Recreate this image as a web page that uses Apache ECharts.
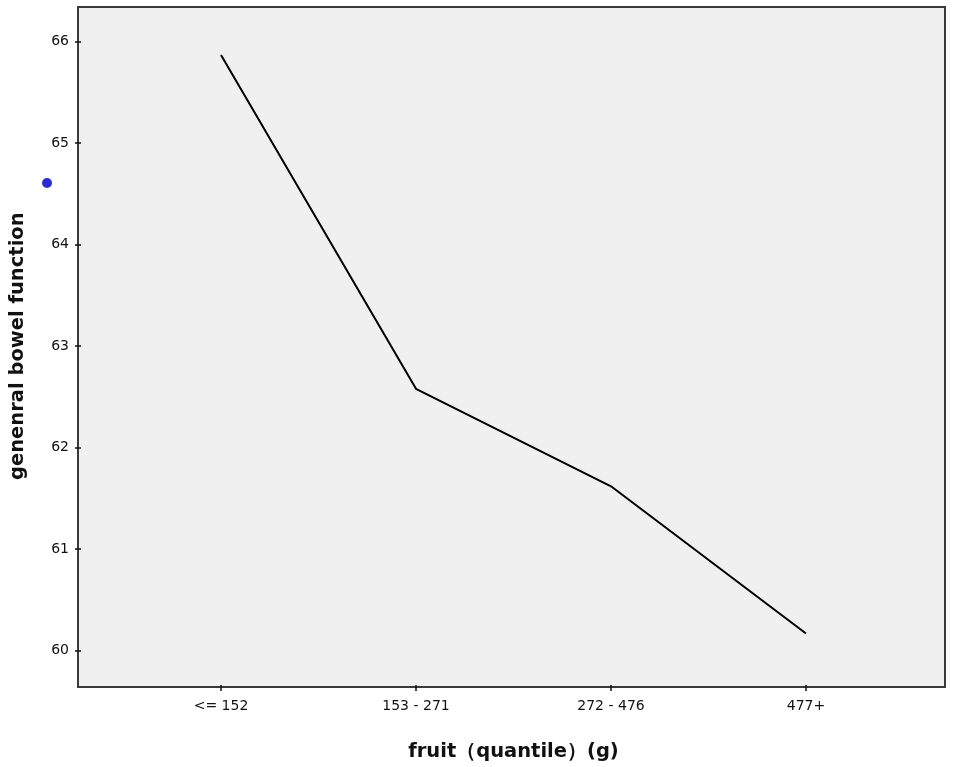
<!DOCTYPE html>
<html>
<head>
<meta charset="utf-8">
<script src="https://cdn.jsdelivr.net/npm/echarts@6/dist/echarts.min.js"></script>
<style>
html,body{margin:0;padding:0;background:#fff;}
#chart{width:957px;height:767px;}
</style>
</head>
<body>
<div id="chart"></div>
<script>
const categories = ['<= 152', '153 - 271', '272 - 476', '477+'];
const bowelFunction = [65.87, 62.58, 61.62, 60.17];
const yTicks = { min: 60, max: 66, interval: 1 };
const xAxisTitle = 'fruit（quantile）(g)';
const yAxisTitle = 'genenral bowel function';

const chart = echarts.init(document.getElementById('chart'), null, { renderer: 'canvas' });
const font = 'DejaVu Sans';
chart.setOption({
  backgroundColor: '#ffffff',
  animation: false,
  grid: [
    { left: 78, top: 7, width: 867, height: 680, show: true, backgroundColor: '#f0f0f0',
      borderColor: '#3a3a3a', borderWidth: 2, z: 0 },
    { left: 218, top: 41.7, width: 588, height: 611 }
  ],
  xAxis: [
    { gridIndex: 0, type: 'value', show: false },
    { gridIndex: 1, type: 'category', data: categories, boundaryGap: false, offset: 34.3,
      axisLine: { show: false },
      axisTick: { show: true, length: 6, lineStyle: { color: '#111', width: 1.5 } },
      axisLabel: { margin: 14, color: '#111', fontFamily: font, fontSize: 14 },
      splitLine: { show: false },
      name: xAxisTitle, nameLocation: 'middle', nameGap: 57,
      nameTextStyle: { fontFamily: font, fontWeight: 'bold', fontSize: 19.5, color: '#111' } }
  ],
  yAxis: [
    { gridIndex: 1, type: 'value', min: yTicks.min, max: yTicks.max, interval: yTicks.interval, offset: 140,
      axisLine: { show: false },
      axisTick: { show: true, length: 6, lineStyle: { color: '#111', width: 1.5 } },
      axisLabel: { margin: 12, color: '#111', fontFamily: font, fontSize: 14 },
      splitLine: { show: false },
      name: yAxisTitle, nameLocation: 'middle', nameGap: 53, nameRotate: 90,
      nameTextStyle: { fontFamily: font, fontWeight: 'bold', fontSize: 19.5, color: '#111' } },
    { gridIndex: 0, type: 'value', show: false }
  ],
  series: [
    { type: 'line', xAxisIndex: 1, yAxisIndex: 0, data: bowelFunction, showSymbol: false, symbol: 'none',
      lineStyle: { color: '#000', width: 2 }, z: 3 }
  ],
  graphic: [
    { type: 'circle', shape: { cx: 47, cy: 183, r: 5 }, style: { fill: '#2b2bcf' }, z: 10 }
  ]
});
</script>
</body>
</html>
